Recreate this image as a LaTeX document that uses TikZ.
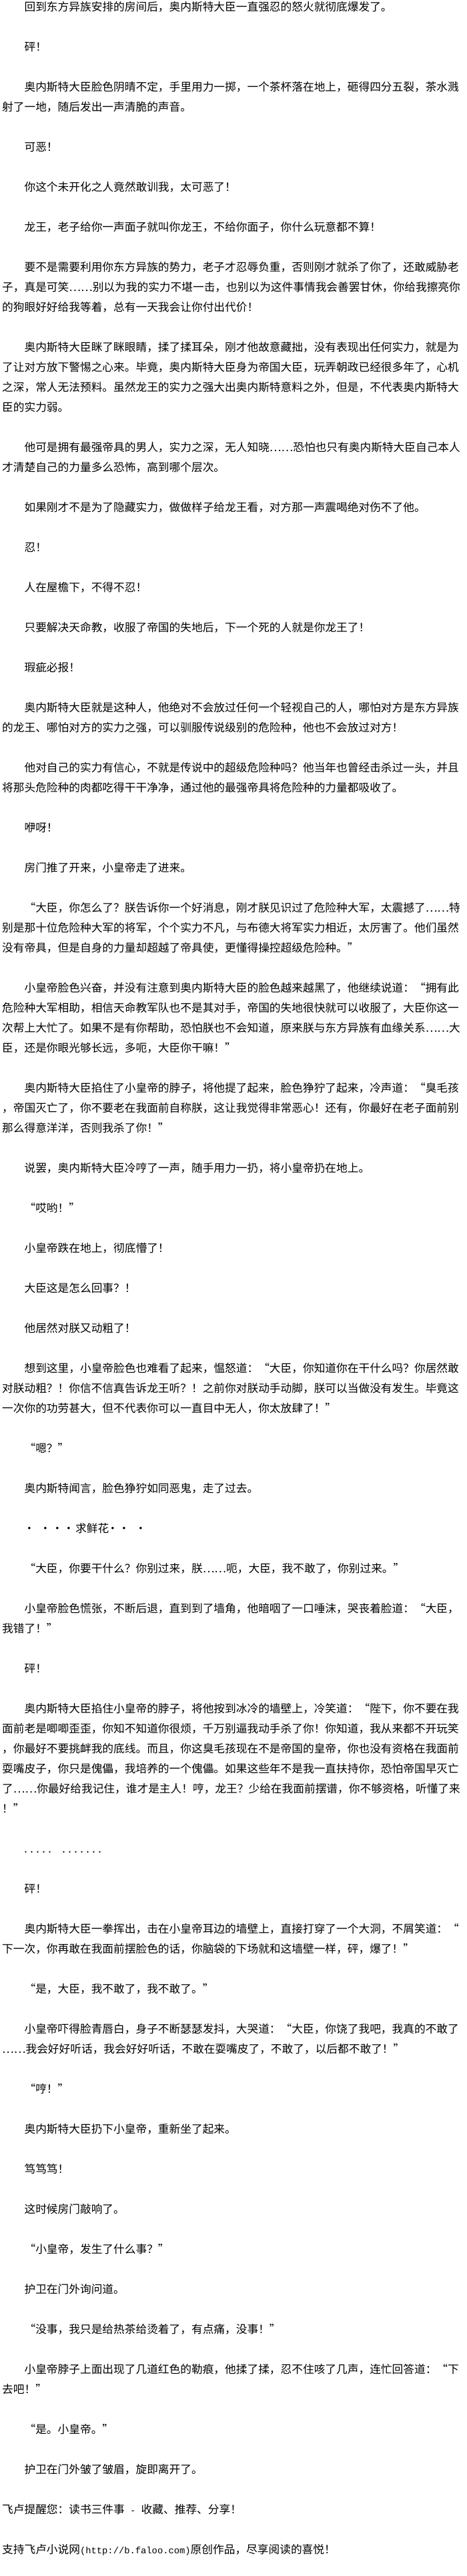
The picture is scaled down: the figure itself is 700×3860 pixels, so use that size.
\documentclass[tikz,border=0pt]{standalone}
\usepackage{fontspec}
\newfontfamily\cjk[RawFeature=+fwid]{Noto Sans CJK SC}
\newfontfamily\hw{Liberation Mono}

\begin{document}
\begin{tikzpicture}[x=1pt, y=1pt,
  txt/.style={anchor=base west, inner sep=0pt, font=\cjk\fontsize{16.7}{20}\selectfont},
  mono/.style={anchor=base west, inner sep=0pt, font=\hw\fontsize{15}{18}\selectfont}]
% Page
\fill[white] (0,0) rectangle (700,-3860);
\useasboundingbox (0,0) rectangle (700,-3860);
% Draw text lines (line slot \s, 30 units apart)
\foreach \s/\t in {
  0/{　　回到东方异族安排的房间后，奥内斯特大臣一直强忍的怒火就彻底爆发了。},
  2/{　　砰！},
  4/{　　奥内斯特大臣脸色阴晴不定，手里用力一掷，一个茶杯落在地上，砸得四分五裂，茶水溅},
  5/{射了一地，随后发出一声清脆的声音。},
  7/{　　可恶！},
  9/{　　你这个未开化之人竟然敢训我，太可恶了！},
  11/{　　龙王，老子给你一声面子就叫你龙王，不给你面子，你什么玩意都不算！},
  13/{　　要不是需要利用你东方异族的势力，老子才忍辱负重，否则刚才就杀了你了，还敢威胁老},
  14/{子，真是可笑……别以为我的实力不堪一击，也别以为这件事情我会善罢甘休，你给我擦亮你},
  15/{的狗眼好好给我等着，总有一天我会让你付出代价！},
  17/{　　奥内斯特大臣眯了眯眼睛，揉了揉耳朵，刚才他故意藏拙，没有表现出任何实力，就是为},
  18/{了让对方放下警惕之心来。毕竟，奥内斯特大臣身为帝国大臣，玩弄朝政已经很多年了，心机},
  19/{之深，常人无法预料。虽然龙王的实力之强大出奥内斯特意料之外，但是，不代表奥内斯特大},
  20/{臣的实力弱。},
  22/{　　他可是拥有最强帝具的男人，实力之深，无人知晓……恐怕也只有奥内斯特大臣自己本人},
  23/{才清楚自己的力量多么恐怖，高到哪个层次。},
  25/{　　如果刚才不是为了隐藏实力，做做样子给龙王看，对方那一声震喝绝对伤不了他。},
  27/{　　忍！},
  29/{　　人在屋檐下，不得不忍！},
  31/{　　只要解决天命教，收服了帝国的失地后，下一个死的人就是你龙王了！},
  33/{　　瑕疵必报！},
  35/{　　奥内斯特大臣就是这种人，他绝对不会放过任何一个轻视自己的人，哪怕对方是东方异族},
  36/{的龙王、哪怕对方的实力之强，可以驯服传说级别的危险种，他也不会放过对方！},
  38/{　　他对自己的实力有信心，不就是传说中的超级危险种吗？他当年也曾经击杀过一头，并且},
  39/{将那头危险种的肉都吃得干干净净，通过他的最强帝具将危险种的力量都吸收了。},
  41/{　　咿呀！},
  43/{　　房门推了开来，小皇帝走了进来。},
  45/{　　“大臣，你怎么了？朕告诉你一个好消息，刚才朕见识过了危险种大军，太震撼了……特},
  46/{别是那十位危险种大军的将军，个个实力不凡，与布德大将军实力相近，太厉害了。他们虽然},
  47/{没有帝具，但是自身的力量却超越了帝具使，更懂得操控超级危险种。”},
  49/{　　小皇帝脸色兴奋，并没有注意到奥内斯特大臣的脸色越来越黑了，他继续说道：“拥有此},
  50/{危险种大军相助，相信天命教军队也不是其对手，帝国的失地很快就可以收服了，大臣你这一},
  51/{次帮上大忙了。如果不是有你帮助，恐怕朕也不会知道，原来朕与东方异族有血缘关系……大},
  52/{臣，还是你眼光够长远，多呃，大臣你干嘛！”},
  54/{　　奥内斯特大臣掐住了小皇帝的脖子，将他提了起来，脸色狰狞了起来，冷声道：“臭毛孩},
  55/{，帝国灭亡了，你不要老在我面前自称朕，这让我觉得非常恶心！还有，你最好在老子面前别},
  56/{那么得意洋洋，否则我杀了你！”},
  58/{　　说罢，奥内斯特大臣冷哼了一声，随手用力一扔，将小皇帝扔在地上。},
  60/{　　“哎哟！”},
  62/{　　小皇帝跌在地上，彻底懵了！},
  64/{　　大臣这是怎么回事？！},
  66/{　　他居然对朕又动粗了！},
  68/{　　想到这里，小皇帝脸色也难看了起来，愠怒道：“大臣，你知道你在干什么吗？你居然敢},
  69/{对朕动粗？！你信不信真告诉龙王听？！之前你对朕动手动脚，朕可以当做没有发生。毕竟这},
  70/{一次你的功劳甚大，但不代表你可以一直目中无人，你太放肆了！”},
  72/{　　“嗯？”},
  74/{　　奥内斯特闻言，脸色狰狞如同恶鬼，走了过去。},
  78/{　　“大臣，你要干什么？你别过来，朕……呃，大臣，我不敢了，你别过来。”},
  80/{　　小皇帝脸色慌张，不断后退，直到到了墙角，他暗咽了一口唾沫，哭丧着脸道：“大臣，},
  81/{我错了！”},
  83/{　　砰！},
  85/{　　奥内斯特大臣掐住小皇帝的脖子，将他按到冰冷的墙壁上，冷笑道：“陛下，你不要在我},
  86/{面前老是唧唧歪歪，你知不知道你很烦，千万别逼我动手杀了你！你知道，我从来都不开玩笑},
  87/{，你最好不要挑衅我的底线。而且，你这臭毛孩现在不是帝国的皇帝，你也没有资格在我面前},
  88/{耍嘴皮子，你只是傀儡，我培养的一个傀儡。如果这些年不是我一直扶持你，恐怕帝国早灭亡},
  89/{了……你最好给我记住，谁才是主人！哼，龙王？少给在我面前摆谱，你不够资格，听懂了来},
  90/{！”},
  94/{　　砰！},
  96/{　　奥内斯特大臣一拳挥出，击在小皇帝耳边的墙壁上，直接打穿了一个大洞，不屑笑道：“},
  97/{下一次，你再敢在我面前摆脸色的话，你脑袋的下场就和这墙壁一样，砰，爆了！”},
  99/{　　“是，大臣，我不敢了，我不敢了。”},
  101/{　　小皇帝吓得脸青唇白，身子不断瑟瑟发抖，大哭道：“大臣，你饶了我吧，我真的不敢了},
  102/{……我会好好听话，我会好好听话，不敢在耍嘴皮了，不敢了，以后都不敢了！”},
  104/{　　“哼！”},
  106/{　　奥内斯特大臣扔下小皇帝，重新坐了起来。},
  108/{　　笃笃笃！},
  110/{　　这时候房门敲响了。},
  112/{　　“小皇帝，发生了什么事？”},
  114/{　　护卫在门外询问道。},
  116/{　　“没事，我只是给热茶给烫着了，有点痛，没事！”},
  118/{　　小皇帝脖子上面出现了几道红色的勒痕，他揉了揉，忍不住咳了几声，连忙回答道：“下},
  119/{去吧！”},
  121/{　　“是。小皇帝。”},
  123/{　　护卫在门外皱了皱眉，旋即离开了。}}
  \node[txt] (l\s) at (3,-16.3-30*\s) {\t};
% Dotted lines
\foreach \x [count=\i] in {44,68,86,103,169,186,211}
  \node[txt, anchor=base] (dot\i) at (\x,-16.3-30*76) {·};
\node[txt] (l76) at (113,-16.3-30*76) {求鲜花};
\node[mono] (l92) at (34,-16.3-30*92) {..... .......};
% Footer lines
\node[txt] (l125) at (3,-16.3-30*125) {飞卢提醒您：读书三件事{\hw\fontsize{13.8}{16}\selectfont\ -\ }收藏、推荐、分享！};
\node[txt] (l127) at (3,-16.3-30*127) {支持飞卢小说网{\hw\fontsize{13.8}{16}\selectfont (http://b.faloo.com)}原创作品，尽享阅读的喜悦！};
\end{tikzpicture}
\end{document}
